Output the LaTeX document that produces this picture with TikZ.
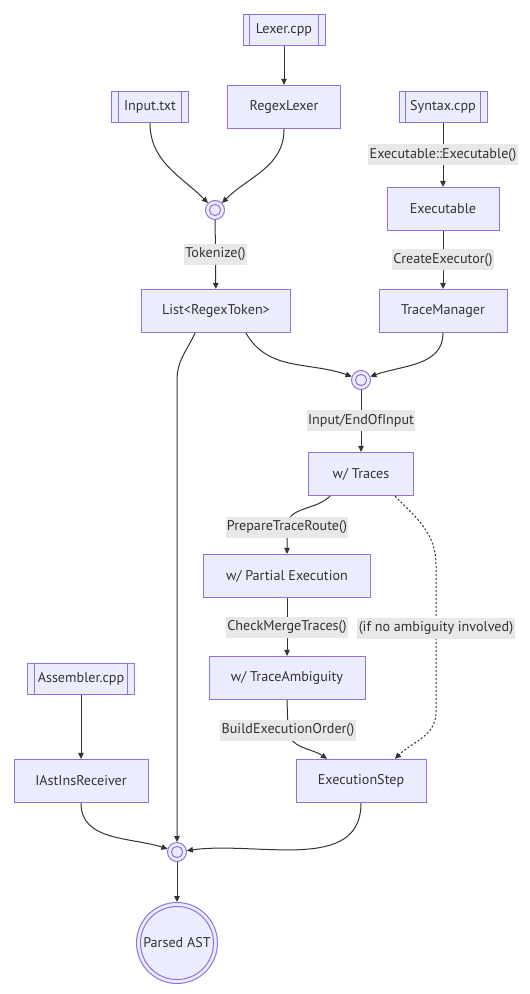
\documentclass[tikz,border=0pt]{standalone}
\usepackage{fontspec}
\setmainfont{PT Sans}
\usetikzlibrary{arrows.meta}
\definecolor{mmfill}{HTML}{ECECFF}
\definecolor{mmline}{HTML}{9370DB}
\definecolor{mmedge}{HTML}{333333}
\definecolor{mmlbl}{HTML}{E8E8E8}
\tikzset{
  procbox/.style={draw=mmline,fill=mmfill,line width=0.75pt,text=mmedge,minimum height=32.5pt,inner sep=0pt},
  subbox/.style={procbox,minimum height=23.25pt,
    path picture={\draw[mmline,line width=0.75pt] ([xshift=5pt]path picture bounding box.north west) -- ([xshift=5pt]path picture bounding box.south west)
      ([xshift=-5pt]path picture bounding box.north east) -- ([xshift=-5pt]path picture bounding box.south east);}},
  junc/.style={circle,draw=mmline,fill=mmfill,line width=0.75pt,minimum size=14.25pt,inner sep=0pt,
    path picture={\draw[mmline,line width=0.75pt] (path picture bounding box.center) circle (4.2pt);}},
  endcirc/.style={circle,draw=mmline,fill=mmfill,line width=0.75pt,minimum size=60.75pt,inner sep=0pt,text=mmedge,
    path picture={\draw[mmline,line width=0.75pt] (path picture bounding box.center) circle (27.4pt);}},
  edgelbl/.style={fill=mmlbl,text=mmedge,inner xsep=1pt,inner ysep=0pt,minimum height=15.75pt},
  flow/.style={->,draw=mmedge,line width=0.75pt},
  maybeflow/.style={flow,dash pattern=on 1.5pt off 1.5pt},
}
\begin{document}
\begin{tikzpicture}[x=0.75pt,y=0.75pt,>={Triangle[length=4.5pt,width=4.2pt]},font=\fontsize{10.6}{12}\selectfont]
\useasboundingbox (0,0) rectangle (529,-994);
% sources
\node[subbox,minimum width=61.5pt] (lexer) at (284,-30) {Lexer.cpp};
\node[procbox,minimum width=84.75pt] (regex) at (284,-107) {RegexLexer};
\node[subbox,minimum width=57.75pt] (input) at (150,-107) {Input.txt};
\node[subbox,minimum width=66pt] (syntax) at (443,-107) {Syntax.cpp};
\node[junc] (j1) at (215,-210) {};
\node[procbox,minimum width=111.75pt] (list) at (216,-311) {List<RegexToken>};
\node[procbox,minimum width=84pt] (exe) at (443,-209) {Executable};
\node[procbox,minimum width=96pt] (trace) at (443,-311) {TraceManager};
\node[junc] (j2) at (361,-380) {};
% traces
\node[procbox,minimum width=78.75pt] (traces) at (361,-474) {w/ Traces};
\node[procbox,minimum width=125.25pt] (partial) at (287,-576) {w/ Partial Execution};
\node[procbox,minimum width=117pt] (ambig) at (287,-678) {w/ TraceAmbiguity};
\node[procbox,minimum width=97.5pt] (exstep) at (361,-781) {ExecutionStep};
\coordinate (ptr) at (287,-527);
\coordinate (d1) at (436,-565);
\coordinate (d2) at (436,-712);
\coordinate (beo) at (288,-730);
% assembler
\node[subbox,minimum width=80.25pt] (assem) at (81,-679) {Assembler.cpp};
\node[procbox,minimum width=100.5pt] (iast) at (81,-781) {IAstInsReceiver};
\node[junc] (j3) at (177,-852) {};
\node[endcirc] (ast) at (177,-943) {Parsed AST};
\coordinate (lj) at (177,-380);

\draw[flow] (lexer) -- (regex);
\draw[flow] (input.south) to[out=-90,in=135] (j1);
\draw[flow] (regex.south) to[out=-90,in=45] (j1);
\draw[flow] (j1) -- node[edgelbl]{Tokenize()} (list);
\draw[flow] (syntax) -- node[edgelbl]{Executable::Executable()} (exe);
\draw[flow] (exe) -- node[edgelbl]{CreateExecutor()} (trace);
\draw[flow] ([xshift=22.5pt]list.south) to[out=-60,in=160] (j2);
\draw[flow] (trace.south) to[out=-90,in=20] (j2);
\draw[flow] ([xshift=-15.75pt]list.south) to[out=-115,in=90] (lj) -- (j3);
\draw[flow] (j2) -- node[edgelbl]{Input/EndOfInput} (traces);
\draw[flow] ([xshift=-23.25pt]traces.south) to[out=-135,in=90] (ptr) node[edgelbl]{PrepareTraceRoute()} -- (partial);
\draw[maybeflow] ([xshift=25.5pt]traces.south) to[out=-45,in=90] (d1) -- node[edgelbl,pos=0.43]{(if no ambiguity involved)} (d2) to[out=-90,in=45] ([xshift=25.5pt]exstep.north);
\draw[flow] (partial) -- node[edgelbl]{CheckMergeTraces()} (ambig);
\draw[flow] (ambig.south) -- (beo) node[edgelbl]{BuildExecutionOrder()} to[out=-85,in=145] ([xshift=-25.5pt]exstep.north);
\draw[flow] (assem) -- (iast);
\draw[flow] (iast.south) to[out=-90,in=162] (j3);
\draw[flow] (exstep.south) to[out=-90,in=8] (j3);
\draw[flow] (j3) -- (ast);
\end{tikzpicture}
\end{document}
